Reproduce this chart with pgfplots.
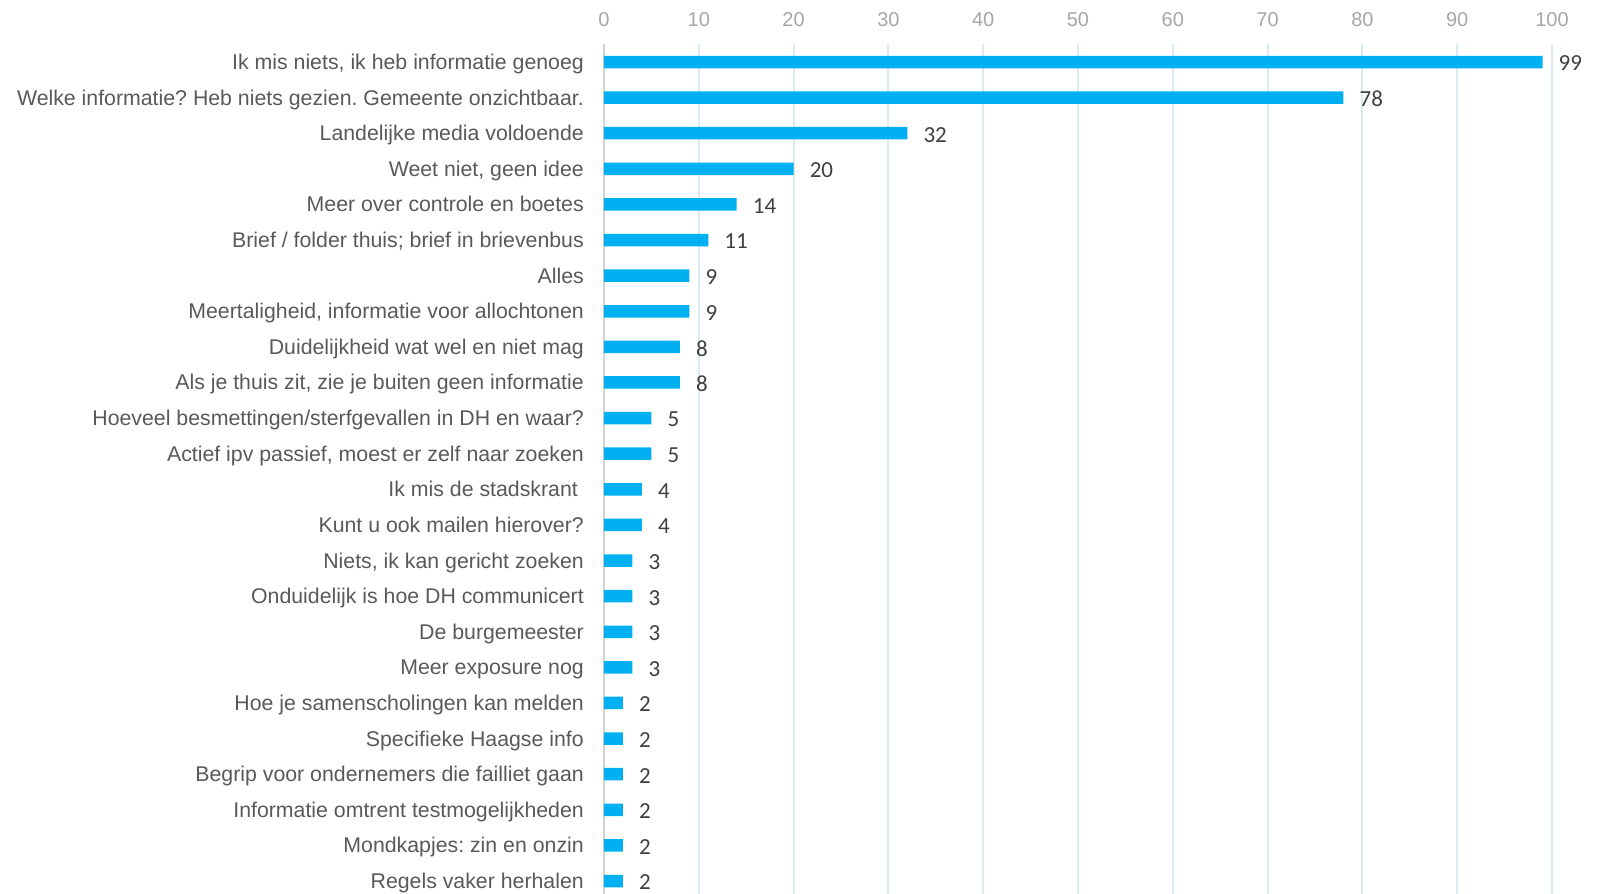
\documentclass[border=0pt]{standalone}
\usepackage{pgfplots}
\pgfplotsset{compat=1.18}
\usepackage{fontspec}
\setmainfont{Liberation Sans}
\newfontfamily\valfont{Carlito}
\frenchspacing
\definecolor{barblue}{RGB}{0,176,240}
\definecolor{labgray}{RGB}{89,89,89}
\definecolor{tickgray}{RGB}{166,166,166}
\definecolor{valgray}{RGB}{64,64,64}
\definecolor{gridblue}{RGB}{218,235,245}
\definecolor{zerogray}{RGB}{210,210,210}
\begin{document}
\begin{tikzpicture}
\useasboundingbox (-604pt,0pt) rectangle (995pt,894pt);
\begin{axis}[
    at={(0pt,0pt)}, anchor=south west,
    scale only axis, width=948pt, height=850pt,
    xbar, bar width=12.5pt,
    xmin=0, xmax=100, ymin=-0.506, ymax=23.365, y dir=reverse,
    enlargelimits=false, clip=false,
    axis line style={draw=none},
    major tick length=0pt,
    xtick={0,10,...,100},
    xticklabel pos=upper,
    xmajorgrids, grid style={gridblue, line width=2pt},
    extra x ticks={0}, extra x tick labels={},
    extra x tick style={grid style={zerogray, line width=2.2pt}},
    xticklabel style={anchor=center, inner sep=0pt, yshift=24.5pt,
        font=\fontsize{20}{24}\selectfont, text=tickgray},
    /pgf/number format/assume math mode=true,
    ytick={0,...,23},
    yticklabels={
        {Ik mis niets, ik heb informatie genoeg},
        {Welke informatie? Heb niets gezien. Gemeente onzichtbaar.},
        {Landelijke media voldoende},
        {Weet niet, geen idee},
        {Meer over controle en boetes},
        {Brief / folder thuis; brief in brievenbus},
        {Alles},
        {Meertaligheid, informatie voor allochtonen},
        {Duidelijkheid wat wel en niet mag},
        {Als je thuis zit, zie je buiten geen informatie},
        {Hoeveel besmettingen/sterfgevallen in DH en waar?},
        {Actief ipv passief, moest er zelf naar zoeken},
        {Ik mis de stadskrant\kern0.28em},
        {Kunt u ook mailen hierover?},
        {Niets, ik kan gericht zoeken},
        {Onduidelijk is hoe DH communicert},
        {De burgemeester},
        {Meer exposure nog},
        {Hoe je samenscholingen kan melden},
        {Specifieke Haagse info},
        {Begrip voor ondernemers die failliet gaan},
        {Informatie omtrent testmogelijkheden},
        {Mondkapjes: zin en onzin},
        {Regels vaker herhalen}
    },
    yticklabel style={anchor=base east, inner sep=0pt, xshift=-20pt, yshift=-7.5pt,
        font=\fontsize{21.3}{25}\selectfont, text=labgray},
    nodes near coords,
    every node near coord/.append style={anchor=west, inner sep=0pt,
        xshift=16pt, yshift=-1.5pt,
        font=\valfont\fontsize{23}{27}\selectfont, text=valgray},
]
\addplot[draw=none, fill=barblue] coordinates {
(99,0)
(78,1)
(32,2)
(20,3)
(14,4)
(11,5)
(9,6)
(9,7)
(8,8)
(8,9)
(5,10)
(5,11)
(4,12)
(4,13)
(3,14)
(3,15)
(3,16)
(3,17)
(2,18)
(2,19)
(2,20)
(2,21)
(2,22)
(2,23)
};
\end{axis}
\end{tikzpicture}
\end{document}
